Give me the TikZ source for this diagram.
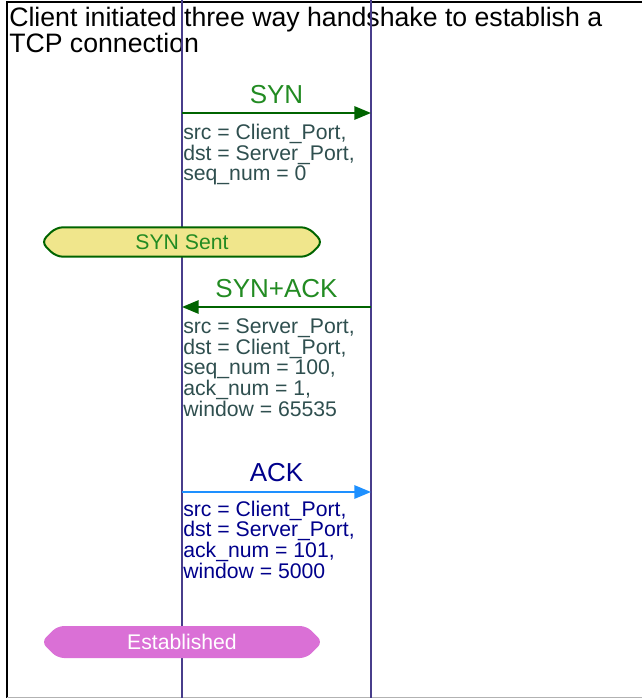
\documentclass[tikz,border=0pt]{standalone}
\usepackage{fontspec}
\setmainfont{Liberation Sans}
\usepackage{tikz}
\usetikzlibrary{arrows.meta,shapes.symbols}
\definecolor{lifeblue}{HTML}{483D8B}
\definecolor{arrgreen}{HTML}{006400}
\definecolor{labgreen}{HTML}{228B22}
\definecolor{slategr}{HTML}{2F4F4F}
\definecolor{ackblue}{HTML}{1E90FF}
\definecolor{acknavy}{HTML}{00008B}
\definecolor{khakifill}{HTML}{F0E68C}
\definecolor{orchidfill}{HTML}{DA70D6}

\begin{document}
\begin{tikzpicture}[x=0.75pt, y=-0.75pt,
    lifeline/.style={draw=lifeblue, line width=1pt},
    msg/.style={line width=1.5pt, -{Triangle[length=12.5pt, width=10pt]}},
    msglabel/.style={anchor=base, inner sep=0pt, font=\fontsize{19.5}{20}\selectfont},
    params/.style={anchor=base west, align=left, inner sep=0pt, font=\fontsize{15.9}{15.5}\selectfont},
    statebox/.style={signal, signal to=west and east, signal pointer angle=90, rounded corners=5pt,
        minimum width=211pt, minimum height=22pt, inner sep=0pt, font=\fontsize{15.9}{16}\selectfont}]
    \useasboundingbox (0,0) rectangle (642,698);

    % Frame and note text (base anchor = last line)
    \draw[black, line width=1.5pt] (642,2) -- (7,2) -- (7,698);
    \draw[gray!60, line width=1pt] (7,697.5) -- (642,697.5);
    \node[anchor=base west, align=left, inner sep=0pt, font=\fontsize{20}{18}\selectfont] (note) at (9,53)
        {Client initiated three way handshake to establish a\\TCP connection};

    % Lifelines
    \coordinate (ctop) at (182,0);
    \coordinate (cbot) at (182,698);
    \coordinate (stop) at (371,0);
    \coordinate (sbot) at (371,698);
    \draw[lifeline] (ctop) -- (cbot);
    \draw[lifeline] (stop) -- (sbot);

    % SYN
    \coordinate (synC) at (182,113);
    \coordinate (synS) at (371,113);
    \draw[msg, draw=arrgreen] (synC) -- (synS);
    \node[msglabel, text=labgreen] (synlab) at (276.5,104) {SYN};
    \node[params, text=slategr] (synpar) at (183,181)
        {src = Client\_Port,\\dst = Server\_Port,\\seq\_num = 0};

    % SYN Sent state
    \node[statebox, draw=arrgreen, line width=1.5pt, fill=khakifill, text=labgreen] (synsent) at (182,242) {SYN Sent};

    % SYN+ACK
    \coordinate (sackS) at (371,307);
    \coordinate (sackC) at (182,307);
    \draw[msg, draw=arrgreen] (sackS) -- (sackC);
    \node[msglabel, text=labgreen] (sacklab) at (276.5,297) {SYN+ACK};
    \node[params, text=slategr] (sackpar) at (183,416)
        {src = Server\_Port,\\dst = Client\_Port,\\seq\_num = 100,\\ack\_num = 1,\\window = 65535};

    % ACK
    \coordinate (ackC) at (182,492);
    \coordinate (ackS) at (371,492);
    \draw[msg, draw=ackblue] (ackC) -- (ackS);
    \node[msglabel, text=acknavy] (acklab) at (276.5,481) {ACK};
    \node[params, text=acknavy] (ackpar) at (183,578)
        {src = Client\_Port,\\dst = Server\_Port,\\ack\_num = 101,\\window = 5000};

    % Established state
    \node[statebox, fill=orchidfill, text=white, minimum height=24pt] (estab) at (182,642) {Established};
\end{tikzpicture}
\end{document}
